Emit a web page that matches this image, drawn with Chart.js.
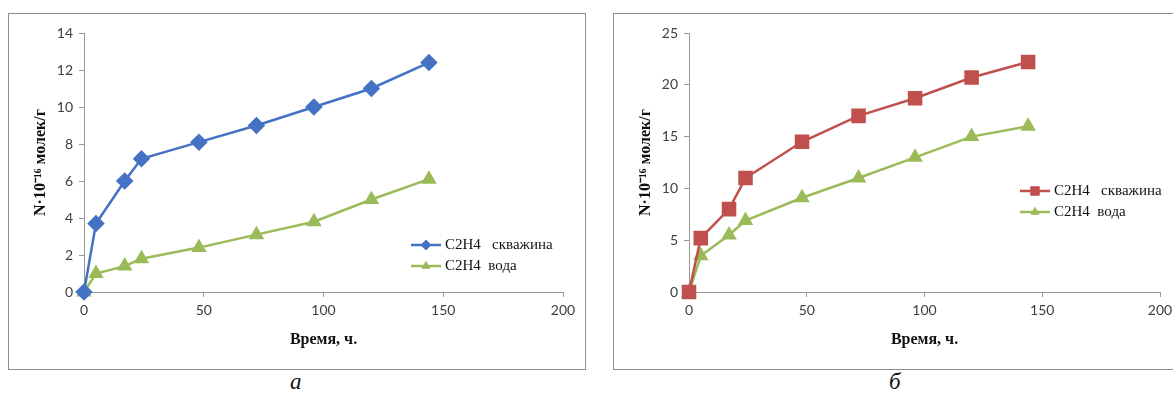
<!DOCTYPE html>
<html>
<head>
<meta charset="utf-8">
<script src="https://cdn.jsdelivr.net/npm/chart.js@4"></script>
<style>
  body { margin: 0; width: 1173px; height: 396px; background: #fff; position: relative; overflow: hidden; }
  .panel { position: absolute; top: 13px; height: 357px; border: 1px solid #8c8c8c; box-sizing: border-box; }
  #p1 { left: 8px; width: 578px; }
  #p2 { left: 613px; width: 570px; }
  .cap { position: absolute; top: 369px; font: italic 23px "Liberation Serif", serif; color: #111; }
</style>
</head>
<body>
<div class="panel" id="p1"><canvas id="chartA"></canvas></div>
<div class="panel" id="p2"><canvas id="chartB"></canvas></div>
<div class="cap" style="left:290px">а</div>
<div class="cap" style="left:889px">б</div>
<script>
// time, hours
const hours = [0, 5, 17, 24, 48, 72, 96, 120, 144];
// chart a
const wellA = [0, 3.7, 6.0, 7.2, 8.1, 9.0, 10.0, 11.0, 12.4];
const waterA = [0, 1.0, 1.4, 1.8, 2.4, 3.1, 3.8, 5.0, 6.1];
// chart б
const wellB = [0, 5.2, 8.0, 11.0, 14.5, 17.0, 18.7, 20.7, 22.2];
const waterB = [0, 3.5, 5.5, 6.9, 9.1, 11.0, 13.0, 15.0, 16.0];
const labelWell = "C2H4   скважина";
const labelWater = "C2H4  вода";
const yTitle = "N·10⁻¹⁶ молек/г";
const xTitle = "Время, ч.";

function pts(ys) {
  return hours.map((h, i) => ({ x: h, y: ys[i] }));
}

// legend drawn inside the plot, like Excel does
const insideLegend = {
  id: "insideLegend",
  afterDraw(chart, args, opts) {
    const ctx = chart.ctx;
    ctx.save();
    ctx.font = "15px 'Liberation Serif', serif";
    ctx.textBaseline = "middle";
    chart.data.datasets.forEach((ds, i) => {
      const y = opts.y + i * 21;
      ctx.strokeStyle = ds.borderColor;
      ctx.lineWidth = 2.5;
      ctx.beginPath();
      ctx.moveTo(opts.x, y);
      ctx.lineTo(opts.x + 30, y);
      ctx.stroke();
      ctx.fillStyle = ds.backgroundColor;
      ctx.lineWidth = 1;
      Chart.helpers.drawPoint(ctx, {
        pointStyle: ds.pointStyle, radius: ds.pointRadius * 0.7, rotation: 0, borderWidth: 1
      }, opts.x + 15, y);
      ctx.fillStyle = "#111";
      ctx.fillText(ds.label, opts.x + 34, y);
    });
    ctx.restore();
  }
};

function makeChart(id, well, water, wellStyle, yMax, yStep, legendPos) {
  const ctx = document.getElementById(id).getContext("2d");
  return new Chart(ctx, {
    type: "line",
    data: {
      datasets: [
        {
          label: labelWell,
          data: pts(well),
          borderColor: wellStyle.color,
          backgroundColor: wellStyle.color,
          pointStyle: wellStyle.point,
          pointRadius: wellStyle.radius,
          borderWidth: 2.5,
          tension: 0,
          clip: false,
        },
        {
          label: labelWater,
          data: pts(water),
          borderColor: "#9bbb59",
          backgroundColor: "#9bbb59",
          pointStyle: "triangle",
          pointRadius: 6.5,
          borderWidth: 2.5,
          tension: 0,
          clip: false,
        },
      ],
    },
    options: {
      responsive: true,
      maintainAspectRatio: false,
      animation: false,
      layout: { padding: { top: 19, right: 22, left: 0, bottom: 0 } },
      plugins: {
        legend: { display: false },
        tooltip: { enabled: false },
        insideLegend: legendPos,
      },
      scales: {
        x: {
          type: "linear",
          min: 0,
          max: 200,
          ticks: { stepSize: 50, color: "#404040", font: { family: "Lato", size: 14 }, padding: 5 },
          grid: { drawOnChartArea: false, tickLength: 5, color: "#999" },
          border: { color: "#999" },
          title: {
            display: true,
            text: xTitle,
            color: "#111",
            font: { family: "'Liberation Serif', serif", size: 16, weight: "bold" },
            padding: { top: 0, bottom: 20 },
          },
          afterFit(scale) { scale.height = 77; },
        },
        y: {
          min: 0,
          max: yMax,
          ticks: { stepSize: yStep, color: "#404040", font: { family: "Lato", size: 14 }, padding: 6 },
          grid: { drawOnChartArea: false, tickLength: 5, color: "#999" },
          border: { color: "#999" },
          title: {
            display: true,
            text: yTitle,
            color: "#111",
            font: { family: "'Liberation Serif', serif", size: 16, weight: "bold" },
            padding: { top: 22, bottom: 0 },
          },
          afterFit(scale) { scale.width = 75; },
        },
      },
    },
    plugins: [insideLegend],
  });
}

makeChart("chartA", wellA, waterA, { color: "#4472c4", point: "rectRot", radius: 7 },
  14, 2, { x: 402, y: 231 });
makeChart("chartB", wellB, waterB, { color: "#c0504d", point: "rect", radius: 8.5 },
  25, 5, { x: 406, y: 177 });
</script>
</body>
</html>
